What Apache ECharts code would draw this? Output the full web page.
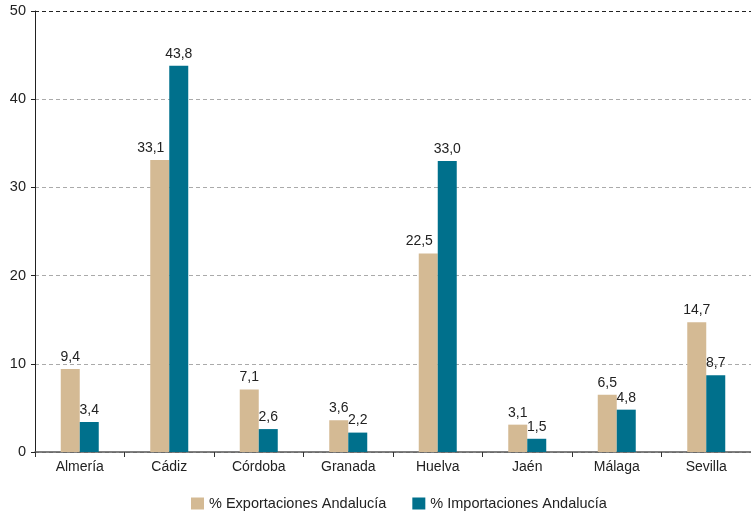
<!DOCTYPE html>
<html>
<head>
<meta charset="utf-8">
<script src="https://cdn.jsdelivr.net/npm/echarts@6/dist/echarts.min.js"></script>
<style>
  html, body { margin: 0; padding: 0; background: #fff; }
  #chart { width: 751px; height: 514px; }
</style>
</head>
<body>
<div id="chart"></div>
<script>
// Provincias andaluzas
const provincias = ['Almería', 'Cádiz', 'Córdoba', 'Granada', 'Huelva', 'Jaén', 'Málaga', 'Sevilla'];
// Porcentaje sobre el total de Andalucía
const exportaciones = [9.4, 33.1, 7.1, 3.6, 22.5, 3.1, 6.5, 14.7];
const importaciones = [3.4, 43.8, 2.6, 2.2, 33.0, 1.5, 4.8, 8.7];
const nombreExport = '% Exportaciones Andalucía';
const nombreImport = '% Importaciones Andalucía';

const FONT = '"Liberation Sans", Arial, Helvetica, sans-serif';
const fmt = p => p.value.toFixed(1).replace('.', ',');

// Where the neighbouring bar is taller, the label is nudged left so it does not sit on it
const exportData = exportaciones.map((v, i) => {
  const item = { value: v };
  if (importaciones[i] > v + 2) item.label = { offset: [-9, 0] };
  return item;
});

const labelStyle = {
  show: true, position: 'top', distance: 5, formatter: fmt,
  fontFamily: FONT, fontSize: 14, color: '#222'
};

const chart = echarts.init(document.getElementById('chart'));
chart.setOption({
  animation: false,
  textStyle: { fontFamily: FONT },
  grid: { left: 35, right: 0, top: 11, bottom: 62 },
  legend: {
    top: 491,
    left: 186,
    itemWidth: 13,
    itemHeight: 12,
    itemGap: 26,
    itemTextGap: 7,
    icon: 'rect',
    textStyle: { fontFamily: FONT, fontSize: 14.5, color: '#222' },
    data: [nombreExport, nombreImport]
  },
  xAxis: {
    type: 'category',
    data: provincias,
    axisLine: { lineStyle: { color: '#555', width: 1.5 } },
    axisTick: { show: true, length: 5, lineStyle: { color: '#333' } },
    axisLabel: { fontFamily: FONT, fontSize: 14, color: '#222', margin: 8 }
  },
  yAxis: {
    type: 'value',
    min: 0,
    max: 50,
    interval: 10,
    axisLine: { show: true, lineStyle: { color: '#222', width: 1 } },
    axisTick: { show: true, length: 4, lineStyle: { color: '#222' } },
    axisLabel: { fontFamily: FONT, fontSize: 14.5, color: '#222', margin: 9 },
    splitLine: { show: true, lineStyle: { color: '#aaa', type: [4, 3] } }
  },
  series: [
    {
      name: nombreExport,
      type: 'bar',
      data: exportData,
      barWidth: 19,
      barGap: '0%',
      itemStyle: { color: '#D4BA94' },
      label: labelStyle,
      markLine: {
        silent: true,
        symbol: 'none',
        label: { show: false },
        lineStyle: { color: '#222', type: [4, 3], width: 1 },
        data: [{ yAxis: 50 }]
      }
    },
    {
      name: nombreImport,
      type: 'bar',
      data: importaciones,
      barWidth: 19,
      barGap: '0%',
      itemStyle: { color: '#00708C' },
      label: labelStyle
    }
  ]
});
</script>
</body>
</html>
